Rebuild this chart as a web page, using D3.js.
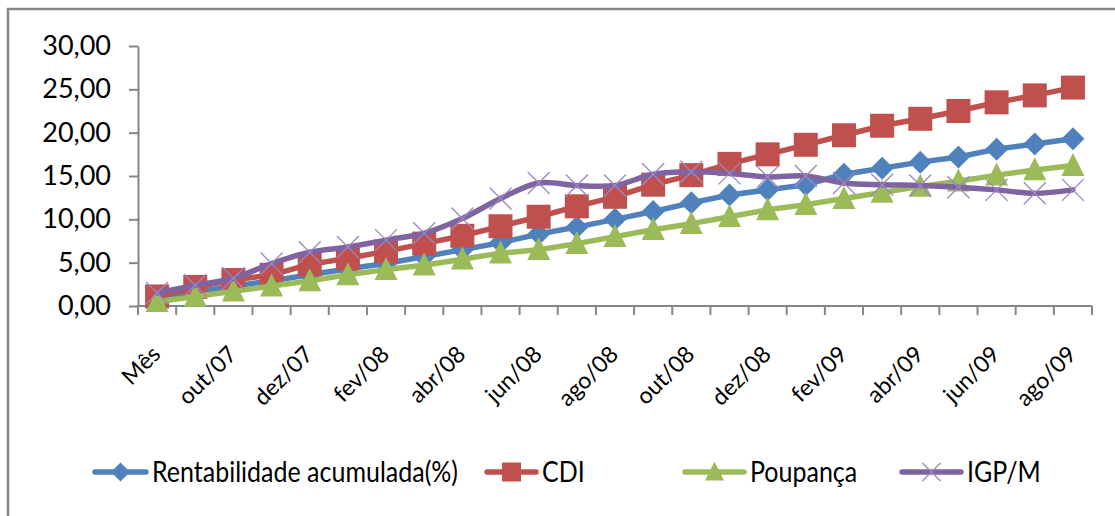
<!DOCTYPE html>
<html>
<head>
<meta charset="utf-8">
<script src="https://cdn.jsdelivr.net/npm/d3@7"></script>
<style>
  body { margin: 0; background: #fff; }
  text { font-family: Lato, "Open Sans", sans-serif; fill: #000; }
</style>
</head>
<body>
<div class="chart"></div>
<script>
let svgWidth = 1115;
let svgHeight = 516;

let margin = { top: 46, right: 23, bottom: 210, left: 138 };
let width = svgWidth - margin.left - margin.right;
let height = svgHeight - margin.top - margin.bottom;

// categories
let months = ["Mês", "set/07", "out/07", "nov/07", "dez/07", "jan/08", "fev/08", "mar/08",
    "abr/08", "mai/08", "jun/08", "jul/08", "ago/08", "set/08", "out/08", "nov/08",
    "dez/08", "jan/09", "fev/09", "mar/09", "abr/09", "mai/09", "jun/09", "jul/09", "ago/09"];

// series values (%)
let rentabilidade = [1.0, 1.6, 2.3, 2.9, 3.6, 4.3, 4.9, 5.7, 6.5, 7.3, 8.3, 9.1, 10.0,
    10.9, 11.9, 12.8, 13.4, 14.0, 15.2, 15.9, 16.6, 17.2, 18.1, 18.7, 19.3];
let cdi = [1.1, 2.2, 3.0, 3.6, 4.8, 5.5, 6.3, 7.2, 8.1, 9.2, 10.3, 11.5, 12.6,
    14.0, 15.1, 16.4, 17.5, 18.6, 19.7, 20.8, 21.6, 22.5, 23.5, 24.3, 25.2];
let poupanca = [0.5, 1.1, 1.7, 2.3, 2.9, 3.6, 4.2, 4.7, 5.4, 6.1, 6.5, 7.2, 8.0,
    8.8, 9.5, 10.3, 11.1, 11.7, 12.4, 13.1, 13.8, 14.4, 15.1, 15.7, 16.2];
let igpm = [1.5, 2.4, 3.2, 4.9, 6.2, 6.8, 7.6, 8.4, 10.1, 12.4, 14.2, 13.9, 13.9,
    15.2, 15.5, 15.3, 14.9, 15.0, 14.2, 14.0, 13.9, 13.7, 13.4, 13.0, 13.4];

let yTicks = [0, 5, 10, 15, 20, 25, 30];

let series = [
    { name: "Rentabilidade acumulada(%)", values: rentabilidade, color: "#4F81BD", marker: "diamond", smooth: false },
    { name: "CDI", values: cdi, color: "#C0504D", marker: "square", smooth: false },
    { name: "Poupança", values: poupanca, color: "#9BBB59", marker: "triangle", smooth: false },
    { name: "IGP/M", values: igpm, color: "#8064A2", marker: "x", smooth: true }
];

let svg = d3.select(".chart")
    .append("svg")
    .attr("width", svgWidth)
    .attr("height", svgHeight);

// outer chart border
svg.append("rect")
    .attr("x", 8)
    .attr("y", 9)
    .attr("width", 1130)
    .attr("height", 530)
    .attr("fill", "none")
    .attr("stroke", "#868686")
    .attr("stroke-width", 2.5);

let chartGroup = svg.append("g")
    .attr("transform", `translate(${margin.left}, ${margin.top})`);

let xScale = d3.scaleBand()
    .domain(months)
    .range([0, width]);

let yScale = d3.scaleLinear()
    .domain([0, 30])
    .range([height, 0]);

let fmt = v => d3.format(".2f")(v).replace(".", ",");

// y axis
let leftAxis = d3.axisLeft(yScale)
    .tickValues(yTicks)
    .tickFormat(fmt)
    .tickSizeInner(9)
    .tickSizeOuter(0)
    .tickPadding(18);

let yAxis = chartGroup.append("g").call(leftAxis);
yAxis.select(".domain").attr("stroke", "#868686").attr("stroke-width", 2);
yAxis.selectAll(".tick line").attr("stroke", "#868686").attr("stroke-width", 2);
yAxis.selectAll(".tick text").style("font-size", "27px").attr("fill", "#000");

// x axis: tick marks on category boundaries
let xAxis = chartGroup.append("g")
    .attr("transform", `translate(0, ${height})`);

xAxis.append("line")
    .attr("x1", 0).attr("x2", width)
    .attr("stroke", "#868686")
    .attr("stroke-width", 2);

xAxis.selectAll(".xtick")
    .data(months.concat(["end"]))
    .enter()
    .append("line")
    .attr("x1", (d, i) => i * xScale.step())
    .attr("x2", (d, i) => i * xScale.step())
    .attr("y1", 0)
    .attr("y2", 9)
    .attr("stroke", "#868686")
    .attr("stroke-width", 2);

xAxis.selectAll(".xlabel")
    .data(months.filter((d, i) => i % 2 === 0))
    .enter()
    .append("text")
    .attr("transform", d => `translate(${xScale(d) + xScale.bandwidth() / 2 - 1}, 44) rotate(-45)`)
    .attr("text-anchor", "end")
    .attr("dy", "0.35em")
    .style("font-size", "23px")
    .text(d => d);

let xPos = i => xScale(months[i]) + xScale.bandwidth() / 2;

function markerPath(type, s) {
    if (type === "diamond") return `M0,${-s}L${s},0L0,${s}L${-s},0Z`;
    if (type === "square") return `M${-s},${-s}H${s}V${s}H${-s}Z`;
    if (type === "triangle") return `M0,${-s * 1.1}L${s},${s * 0.9}L${-s},${s * 0.9}Z`;
    return `M${-s},${-s}L${s},${s}M${s},${-s}L${-s},${s}`;
}

let markerSize = { diamond: 11.5, square: 12, triangle: 11.5, x: 11 };

series.forEach(function (s) {
    let line = d3.line()
        .x((d, i) => xPos(i))
        .y(d => yScale(d))
        .curve(s.smooth ? d3.curveCatmullRom : d3.curveLinear);

    chartGroup.append("path")
        .datum(s.values)
        .attr("d", line)
        .attr("fill", "none")
        .attr("stroke", s.color)
        .attr("stroke-width", 5.5)
        .attr("stroke-linejoin", "round")
        .attr("stroke-linecap", "round");

    let marks = chartGroup.append("g");
    marks.selectAll("path")
        .data(s.values)
        .enter()
        .append("path")
        .attr("transform", (d, i) => `translate(${xPos(i)}, ${yScale(d)})`)
        .attr("d", markerPath(s.marker, markerSize[s.marker]))
        .attr("fill", s.marker === "x" ? "none" : s.color)
        .attr("stroke", s.marker === "x" ? "#9C86C2" : "none")
        .attr("stroke-width", 1.3);
});

// legend
let legendX = [93, 485, 683, 900];
let legendLen = [55, 53, 63, 63];
let legendY = 472;
let legend = svg.append("g");

series.forEach(function (s, i) {
    let len = legendLen[i];
    let g = legend.append("g").attr("transform", `translate(${legendX[i]}, ${legendY})`);
    g.append("line")
        .attr("x1", 2).attr("x2", len - 2)
        .attr("stroke", s.color)
        .attr("stroke-width", 5.5)
        .attr("stroke-linecap", "round");
    g.append("path")
        .attr("transform", `translate(${len / 2}, 0)`)
        .attr("d", markerPath(s.marker, s.marker === "x" ? 9 : 9.5))
        .attr("fill", s.marker === "x" ? "none" : s.color)
        .attr("stroke", s.marker === "x" ? "#9C86C2" : "none")
        .attr("stroke-width", 1.3);
    g.append("text")
        .attr("transform", `translate(${len + 4}, 0) scale(1, 1.15)`)
        .attr("dy", "0.35em")
        .style("font-size", "25px")
        .text(s.name);
});
</script>
</body>
</html>
